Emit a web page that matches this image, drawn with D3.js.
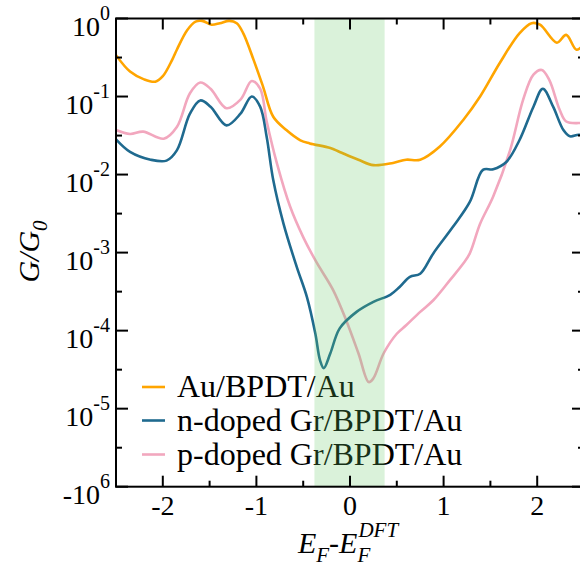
<!DOCTYPE html>
<html>
<head>
<meta charset="utf-8">
<script src="https://cdn.jsdelivr.net/npm/d3@7"></script>
<style>
  html, body { margin: 0; padding: 0; background: #fff; }
  svg { display: block; }
  text { font-family: "Liberation Serif", "Times New Roman", serif; fill: #000; }
</style>
</head>
<body>
<svg id="chart" width="580" height="570"></svg>
<script>
// Energy grid (E_F - E_F^DFT, eV) and conductance G/G0 for each junction
const auEnergy = [-2.50,-2.35,-2.20,-2.08,-2.00,-1.90,-1.85,-1.74,-1.65,-1.58,-1.48,-1.39,-1.29,-1.21,-1.14,-1.03,-0.93,-0.82,-0.68,-0.53,-0.43,-0.21,-0.11,0.09,0.25,0.46,0.60,0.75,0.96,1.21,1.39,1.60,1.81,1.94,2.03,2.21,2.31,2.42,2.50];
const auG = [0.339,0.209,0.166,0.155,0.182,0.295,0.398,0.708,0.912,0.933,0.832,0.871,0.933,0.871,0.646,0.295,0.135,0.0550,0.0372,0.0275,0.0251,0.0219,0.0195,0.0155,0.0132,0.0141,0.0155,0.0155,0.0229,0.0501,0.100,0.269,0.646,0.871,0.832,0.490,0.617,0.398,0.468];

const nEnergy = [-2.50,-2.35,-2.13,-1.96,-1.85,-1.71,-1.60,-1.49,-1.32,-1.17,-1.05,-0.96,-0.89,-0.82,-0.71,-0.57,-0.46,-0.37,-0.32,-0.28,-0.21,-0.11,0.07,0.25,0.43,0.53,0.64,0.75,0.89,1.10,1.28,1.42,1.53,1.67,1.81,1.96,2.06,2.17,2.28,2.35,2.44,2.50];
const nG = [0.0282,0.0195,0.0155,0.0151,0.0204,0.0603,0.0891,0.0741,0.0427,0.0603,0.100,0.0741,0.0302,0.00851,0.00234,6.61e-4,2.69e-4,9.12e-5,4.17e-5,3.31e-5,5.13e-5,1.07e-4,1.74e-4,2.34e-4,2.88e-4,3.63e-4,4.90e-4,5.37e-4,9.77e-4,0.00214,0.00447,0.0115,0.0117,0.0145,0.0275,0.0741,0.126,0.0741,0.0372,0.0309,0.0324,0.0316];

const pEnergy = [-2.50,-2.35,-2.21,-1.99,-1.85,-1.71,-1.60,-1.49,-1.32,-1.17,-1.05,-0.96,-0.89,-0.78,-0.64,-0.50,-0.36,-0.18,-0.04,0.09,0.20,0.25,0.36,0.50,0.60,0.75,0.89,1.07,1.21,1.28,1.39,1.53,1.71,1.85,1.96,2.05,2.13,2.24,2.31,2.44,2.50];
const pG = [0.0372,0.0331,0.0355,0.0288,0.0407,0.110,0.151,0.126,0.0708,0.0912,0.158,0.126,0.0479,0.0138,0.00389,0.00158,7.59e-4,3.31e-4,1.35e-4,5.13e-5,2.19e-5,2.45e-5,5.13e-5,9.12e-5,1.17e-4,1.74e-4,2.45e-4,4.47e-4,7.24e-4,9.77e-4,0.00234,0.00525,0.0204,0.0912,0.191,0.219,0.162,0.0676,0.0479,0.0457,0.0468];

const seriesNames = ["Au/BPDT/Au", "n-doped Gr/BPDT/Au", "p-doped Gr/BPDT/Au"];
const seriesColors = ["#ffa500", "#1f6a8f", "#f2a7be"];

// Axis ticks and labels
const xMajorTicks = [-2, -1, 0, 1, 2];
const xMinorTicks = [-1.5, -0.5, 0.5, 1.5];
const xTickLabels = ["-2", "-1", "0", "1", "2"];
const yMajorTicks = [1, 1e-1, 1e-2, 1e-3, 1e-4, 1e-5, 1e-6];
const yTickBase = ["10", "10", "10", "10", "10", "10", "-10"];
const yTickExp = ["0", "-1", "-2", "-3", "-4", "-5", "6"];
const yMinorTicks = [0.316, 0.0316, 0.00316, 3.16e-4, 3.16e-5, 3.16e-6];

// Highlighted energy window
const bandRange = [-0.38, 0.37];

const svg = d3.select("#chart");
const plotLeft = 116, plotRight = 584, plotTop = 18.5, plotBottom = 486.7;

const x = d3.scaleLinear().domain([-2.5, 2.5]).range([plotLeft, plotRight]);
const y = d3.scaleLog().domain([1e-6, 1]).range([plotBottom, plotTop]);

svg.append("defs").append("clipPath").attr("id", "plotClip")
  .append("rect").attr("x", plotLeft).attr("y", plotTop)
  .attr("width", plotRight - plotLeft).attr("height", plotBottom - plotTop);

const line = d3.line()
  .x(d => x(d[0]))
  .y(d => y(d[1]))
  .curve(d3.curveCatmullRom.alpha(0.5));

const series = [
  d3.zip(auEnergy, auG),
  d3.zip(nEnergy, nG),
  d3.zip(pEnergy, pG)
];

// Draw p-doped first so the others sit above it
const drawOrder = [2, 1, 0];
const curves = svg.append("g").attr("clip-path", "url(#plotClip)");
drawOrder.forEach(i => {
  curves.append("path")
    .datum(series[i])
    .attr("d", line)
    .attr("fill", "none")
    .attr("stroke", seriesColors[i])
    .attr("stroke-width", 2.6)
    .attr("stroke-linejoin", "round");
});

// Legend
const legendRows = [387, 420.5, 454.5];
const legend = svg.append("g");
seriesNames.forEach((name, i) => {
  legend.append("line")
    .attr("x1", 142).attr("x2", 165)
    .attr("y1", legendRows[i]).attr("y2", legendRows[i])
    .attr("stroke", seriesColors[i]).attr("stroke-width", 2.6);
  legend.append("text")
    .attr("x", 177).attr("y", legendRows[i] + 10)
    .attr("font-size", 32)
    .text(name);
});

// Shaded energy window over the curves
svg.append("rect")
  .attr("x", x(bandRange[0]))
  .attr("y", plotTop)
  .attr("width", x(bandRange[1]) - x(bandRange[0]))
  .attr("height", plotBottom - plotTop)
  .attr("fill", "rgb(100,200,100)")
  .attr("fill-opacity", 0.24);

// Frame
const axes = svg.append("g").attr("stroke", "#000").attr("stroke-width", 2);
axes.append("rect")
  .attr("x", plotLeft).attr("y", plotTop)
  .attr("width", plotRight - plotLeft).attr("height", plotBottom - plotTop)
  .attr("fill", "none");

// x ticks on bottom and top edges
xMajorTicks.forEach(t => {
  axes.append("line").attr("x1", x(t)).attr("x2", x(t)).attr("y1", plotBottom).attr("y2", plotBottom - 11);
  axes.append("line").attr("x1", x(t)).attr("x2", x(t)).attr("y1", plotTop).attr("y2", plotTop + 11);
});
xMinorTicks.forEach(t => {
  axes.append("line").attr("x1", x(t)).attr("x2", x(t)).attr("y1", plotBottom).attr("y2", plotBottom - 6);
  axes.append("line").attr("x1", x(t)).attr("x2", x(t)).attr("y1", plotTop).attr("y2", plotTop + 6);
});
// y ticks on left and right edges
yMajorTicks.forEach(t => {
  axes.append("line").attr("x1", plotLeft).attr("x2", plotLeft + 12).attr("y1", y(t)).attr("y2", y(t));
  axes.append("line").attr("x1", plotRight).attr("x2", plotRight - 12).attr("y1", y(t)).attr("y2", y(t));
});
yMinorTicks.forEach(t => {
  axes.append("line").attr("x1", plotLeft).attr("x2", plotLeft + 6).attr("y1", y(t)).attr("y2", y(t));
  axes.append("line").attr("x1", plotRight).attr("x2", plotRight - 6).attr("y1", y(t)).attr("y2", y(t));
});

// x tick labels
xMajorTicks.forEach((t, i) => {
  svg.append("text")
    .attr("x", x(t)).attr("y", plotBottom + 28.5)
    .attr("text-anchor", "middle")
    .attr("font-size", 28)
    .text(xTickLabels[i]);
});

// y tick labels: base with superscript exponent
yMajorTicks.forEach((t, i) => {
  const lbl = svg.append("text")
    .attr("x", plotLeft - 6).attr("y", y(t) + 17)
    .attr("text-anchor", "end")
    .attr("font-size", 28);
  lbl.append("tspan").text(yTickBase[i]);
  lbl.append("tspan").attr("font-size", 20).attr("dy", -15.5).text(yTickExp[i]);
});

// y axis title: G/G0
const yTitle = svg.append("text")
  .attr("transform", "translate(39,251.5) rotate(-90)")
  .attr("text-anchor", "middle")
  .attr("font-size", 30)
  .attr("font-style", "italic");
yTitle.append("tspan").text("G/G");
yTitle.append("tspan").attr("font-size", 21).attr("dy", 8).text("0");

// x axis title: E_F - E_F^DFT
const xTitle = svg.append("text")
  .attr("x", 348).attr("y", 553)
  .attr("text-anchor", "middle")
  .attr("font-size", 30)
  .attr("font-style", "italic");
xTitle.append("tspan").text("E");
xTitle.append("tspan").attr("font-size", 21).attr("dy", 9).text("F");
xTitle.append("tspan").attr("dy", -9).attr("font-style", "normal").text("-");
xTitle.append("tspan").text("E");
const subF = xTitle.append("tspan").attr("font-size", 21).attr("dy", 9).text("F");
const supDFT = xTitle.append("tspan").attr("font-size", 21).attr("dy", -25).text("DFT");
supDFT.attr("dx", -subF.node().getComputedTextLength() + 1);
</script>
</body>
</html>
